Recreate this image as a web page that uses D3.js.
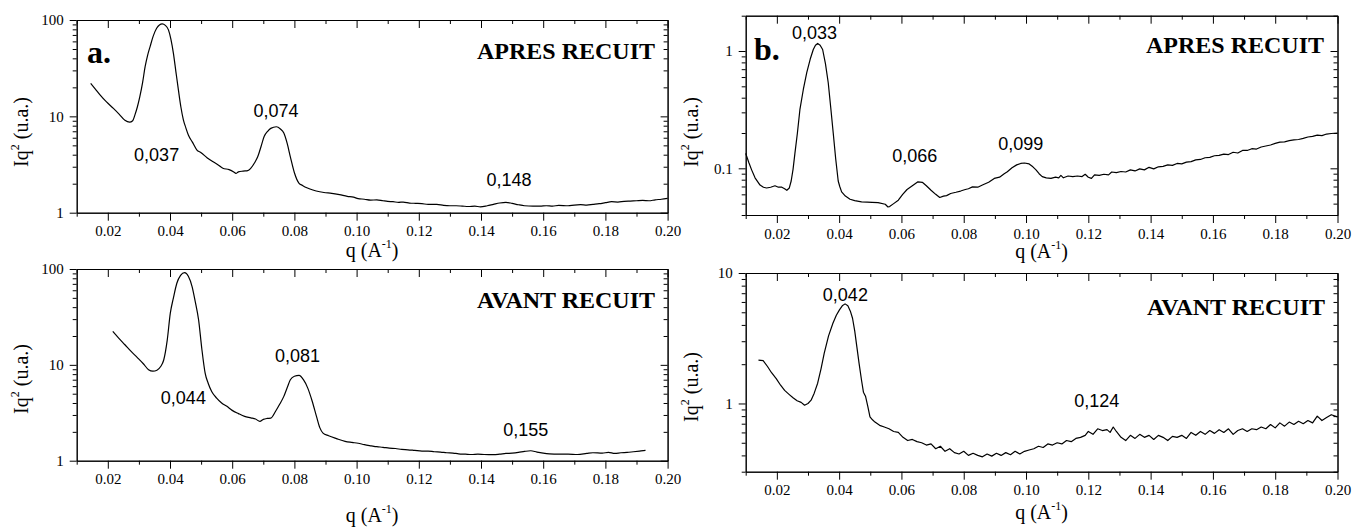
<!DOCTYPE html>
<html><head><meta charset="utf-8">
<script src="https://cdn.jsdelivr.net/npm/d3@7/dist/d3.min.js"></script>
<style>body{margin:0;background:#fff}svg{display:block}</style>
</head><body>
<svg id="chart" width="1361" height="527"></svg>
<script>
// ---------- shared axis data ----------
const qMajorTicks = [0.02,0.04,0.06,0.08,0.10,0.12,0.14,0.16,0.18,0.20];
const qTickLabels = ["0.02","0.04","0.06","0.08","0.10","0.12","0.14","0.16","0.18","0.20"];
const qMinorTicks = [0.01,0.03,0.05,0.07,0.09,0.11,0.13,0.15,0.17,0.19];
const qDomain = [0.01,0.20];

// ---------- panel a : APRES RECUIT ----------
const aApres = [[0.0145,22],[0.0160,19.2],[0.0175,16.7],[0.0195,14.2],[0.0218,12.1],[0.0237,10.5],[0.0255,9.1],[0.0270,8.7],[0.0280,9.0],[0.0287,10.3],[0.0295,12.5],[0.0303,16],[0.0312,22.5],[0.0320,32.8],[0.0328,43],[0.0336,53],[0.0346,68],[0.0357,82],[0.0366,89],[0.0375,91],[0.0385,88],[0.0395,79],[0.0403,63],[0.0411,45],[0.0419,29],[0.0427,18.8],[0.0435,12.5],[0.0443,9.2],[0.0451,7.6],[0.0459,6.4],[0.0472,5.4],[0.0486,4.5],[0.0500,4.2],[0.0520,3.7],[0.0540,3.35],[0.0555,3.13],[0.0570,2.89],[0.0590,2.80],[0.0605,2.65],[0.0612,2.56],[0.0620,2.65],[0.0635,2.70],[0.0650,2.73],[0.0660,2.9],[0.0672,3.3],[0.0682,3.8],[0.0693,4.9],[0.0703,6.2],[0.0714,7.0],[0.0724,7.5],[0.0742,7.8],[0.0755,7.4],[0.0766,6.7],[0.0777,5.2],[0.0787,3.8],[0.0800,2.6],[0.0815,2.02],[0.0826,1.92],[0.0836,1.84],[0.0850,1.76],[0.0870,1.68],[0.0895,1.62],[0.0920,1.59],[0.0945,1.54],[0.0970,1.48],[0.0990,1.45],[0.1005,1.40],[0.1025,1.38],[0.1045,1.35],[0.1065,1.36],[0.1085,1.33],[0.1100,1.31],[0.1117,1.30],[0.1135,1.28],[0.1150,1.29],[0.1170,1.26],[0.1190,1.25],[0.1210,1.24],[0.1230,1.22],[0.1258,1.22],[0.1280,1.19],[0.1300,1.18],[0.1320,1.18],[0.1340,1.17],[0.1360,1.16],[0.1380,1.17],[0.1398,1.15],[0.1420,1.18],[0.1440,1.22],[0.1460,1.26],[0.1480,1.28],[0.1500,1.25],[0.1520,1.21],[0.1540,1.18],[0.1567,1.17],[0.1590,1.17],[0.1610,1.18],[0.1630,1.17],[0.1650,1.19],[0.1680,1.18],[0.1700,1.20],[0.1720,1.21],[0.1740,1.20],[0.1760,1.22],[0.1780,1.24],[0.1800,1.27],[0.1820,1.30],[0.1840,1.29],[0.1860,1.31],[0.1880,1.32],[0.1900,1.33],[0.1920,1.34],[0.1940,1.33],[0.1960,1.36],[0.1980,1.38],[0.2000,1.41]];
const aApresPeaks = [["0,037",0.0357,3.44],["0,074",0.0741,9.93],["0,148",0.149,1.91]];

// ---------- panel a : AVANT RECUIT ----------
const aAvant = [[0.0216,22.3],[0.0235,19.0],[0.0255,16.2],[0.0275,13.8],[0.0295,11.9],[0.0315,10.2],[0.0331,8.9],[0.0345,8.6],[0.0358,8.8],[0.0370,9.6],[0.0380,11.3],[0.0391,18],[0.0401,34.6],[0.0411,50],[0.0422,71],[0.0434,86],[0.0447,91.7],[0.0459,84],[0.0471,65.6],[0.0481,46],[0.0492,29.4],[0.0502,15],[0.0513,8.2],[0.0523,6.4],[0.0534,5.28],[0.0550,4.5],[0.0566,4.0],[0.0583,3.69],[0.0600,3.35],[0.0620,3.1],[0.0640,2.9],[0.0660,2.8],[0.0675,2.72],[0.0689,2.57],[0.0700,2.70],[0.0712,2.76],[0.0724,2.78],[0.0740,3.3],[0.0753,3.9],[0.0766,4.69],[0.0777,5.8],[0.0787,6.98],[0.0800,7.6],[0.0815,7.75],[0.0829,7.0],[0.0843,5.72],[0.0857,4.2],[0.0871,2.9],[0.0882,2.2],[0.0892,1.94],[0.0910,1.82],[0.0935,1.70],[0.0963,1.59],[0.0985,1.55],[0.1005,1.52],[0.1025,1.47],[0.1047,1.43],[0.1065,1.40],[0.1085,1.38],[0.1105,1.35],[0.1125,1.34],[0.1145,1.31],[0.1165,1.30],[0.1187,1.28],[0.1210,1.26],[0.1230,1.26],[0.1250,1.24],[0.1270,1.23],[0.1290,1.21],[0.1310,1.20],[0.1328,1.18],[0.1350,1.17],[0.1370,1.16],[0.1390,1.17],[0.1410,1.16],[0.1440,1.155],[0.1460,1.17],[0.1480,1.19],[0.1500,1.20],[0.1520,1.22],[0.1540,1.25],[0.1560,1.27],[0.1580,1.23],[0.1600,1.20],[0.1620,1.18],[0.1650,1.17],[0.1680,1.17],[0.1710,1.16],[0.1740,1.19],[0.1760,1.21],[0.1790,1.20],[0.1810,1.22],[0.1830,1.19],[0.1850,1.21],[0.1870,1.22],[0.1890,1.24],[0.1910,1.26],[0.1929,1.28]];
const aAvantPeaks = [["0,044",0.0443,3.92],["0,081",0.081,10.6],["0,155",0.1544,1.82]];

// ---------- panel b : APRES RECUIT ----------
const bApres = [[0.0100,0.134],[0.0110,0.112],[0.0119,0.097],[0.0130,0.083],[0.0146,0.072],[0.0157,0.069],[0.0167,0.068],[0.0180,0.069],[0.0194,0.071],[0.0205,0.069],[0.0216,0.069],[0.0225,0.067],[0.0232,0.065],[0.0240,0.068],[0.0246,0.078],[0.0252,0.098],[0.0258,0.134],[0.0266,0.20],[0.0274,0.316],[0.0285,0.47],[0.0296,0.653],[0.0307,0.85],[0.0317,1.03],[0.0324,1.12],[0.0331,1.16],[0.0339,1.12],[0.0347,1.03],[0.0356,0.78],[0.0365,0.536],[0.0373,0.33],[0.0381,0.20],[0.0389,0.12],[0.0397,0.078],[0.0402,0.070],[0.0408,0.063],[0.0420,0.058],[0.0435,0.0545],[0.0450,0.053],[0.0472,0.0517],[0.0490,0.0515],[0.0506,0.0513],[0.0525,0.051],[0.0548,0.0494],[0.0556,0.047],[0.0562,0.0472],[0.0575,0.050],[0.0590,0.0535],[0.0604,0.060],[0.0618,0.066],[0.0635,0.071],[0.0653,0.0767],[0.0667,0.076],[0.0680,0.071],[0.0695,0.065],[0.0710,0.060],[0.0723,0.0564],[0.0735,0.058],[0.0745,0.0585],[0.0758,0.061],[0.0775,0.0625],[0.0790,0.064],[0.0805,0.066],[0.0815,0.067],[0.0828,0.0695],[0.0845,0.069],[0.0860,0.072],[0.0880,0.076],[0.0898,0.082],[0.0915,0.084],[0.0930,0.090],[0.0940,0.0935],[0.0955,0.101],[0.0970,0.107],[0.0983,0.110],[0.0995,0.111],[0.1010,0.109],[0.1022,0.103],[0.1032,0.097],[0.1042,0.090],[0.1052,0.085],[0.1065,0.083],[0.1080,0.082],[0.1095,0.084],[0.1105,0.083],[0.1112,0.087],[0.1120,0.083],[0.1135,0.086],[0.1150,0.085],[0.1165,0.086],[0.1180,0.085],[0.1190,0.089],[0.1200,0.084],[0.1210,0.082],[0.1220,0.088],[0.1235,0.087],[0.1250,0.089],[0.1265,0.088],[0.1275,0.093],[0.1290,0.092],[0.1305,0.094],[0.1320,0.093],[0.1335,0.097],[0.1350,0.095],[0.1365,0.099],[0.1380,0.097],[0.1395,0.102],[0.1410,0.099],[0.1425,0.103],[0.1440,0.104],[0.1455,0.107],[0.1470,0.106],[0.1485,0.110],[0.1500,0.109],[0.1515,0.113],[0.1530,0.114],[0.1545,0.118],[0.1560,0.119],[0.1575,0.123],[0.1590,0.124],[0.1605,0.128],[0.1620,0.129],[0.1635,0.132],[0.1650,0.131],[0.1665,0.137],[0.1680,0.135],[0.1695,0.142],[0.1710,0.142],[0.1725,0.147],[0.1740,0.146],[0.1755,0.152],[0.1770,0.155],[0.1785,0.158],[0.1800,0.163],[0.1815,0.167],[0.1830,0.168],[0.1845,0.172],[0.1860,0.175],[0.1875,0.176],[0.1890,0.180],[0.1905,0.185],[0.1920,0.187],[0.1935,0.192],[0.1950,0.190],[0.1965,0.196],[0.1980,0.198],[0.2000,0.200]];
const bApresPeaks = [["0,033",0.0321,1.26],["0,066",0.0643,0.1126],["0,099",0.0983,0.1435]];

// ---------- panel b : AVANT RECUIT ----------
const bAvant = [[0.0141,2.15],[0.0156,2.13],[0.0170,1.92],[0.0183,1.72],[0.0198,1.55],[0.0212,1.38],[0.0225,1.26],[0.0240,1.17],[0.0253,1.10],[0.0265,1.05],[0.0278,1.02],[0.0289,0.97],[0.0300,1.00],[0.0310,1.06],[0.0320,1.20],[0.0331,1.43],[0.0342,1.85],[0.0352,2.42],[0.0366,3.30],[0.0380,4.12],[0.0391,4.75],[0.0401,5.22],[0.0410,5.60],[0.0419,5.80],[0.0428,5.60],[0.0436,5.10],[0.0443,4.50],[0.0450,3.60],[0.0457,2.70],[0.0464,2.03],[0.0472,1.50],[0.0478,1.22],[0.0485,1.13],[0.0492,0.95],[0.0499,0.79],[0.0507,0.75],[0.0515,0.72],[0.0530,0.68],[0.0545,0.66],[0.0560,0.64],[0.0575,0.61],[0.0590,0.60],[0.0605,0.55],[0.0620,0.52],[0.0635,0.53],[0.0650,0.51],[0.0665,0.50],[0.0680,0.48],[0.0695,0.49],[0.0710,0.45],[0.0725,0.47],[0.0740,0.43],[0.0755,0.45],[0.0770,0.42],[0.0785,0.41],[0.0800,0.43],[0.0815,0.40],[0.0830,0.415],[0.0845,0.40],[0.0860,0.39],[0.0875,0.41],[0.0890,0.395],[0.0905,0.415],[0.0920,0.40],[0.0935,0.42],[0.0950,0.405],[0.0965,0.43],[0.0980,0.41],[0.0995,0.43],[0.1010,0.44],[0.1025,0.45],[0.1040,0.47],[0.1055,0.46],[0.1070,0.49],[0.1085,0.48],[0.1100,0.50],[0.1115,0.49],[0.1130,0.52],[0.1145,0.51],[0.1160,0.54],[0.1175,0.55],[0.1190,0.57],[0.1200,0.61],[0.1215,0.58],[0.1230,0.64],[0.1245,0.62],[0.1260,0.63],[0.1270,0.60],[0.1280,0.66],[0.1290,0.61],[0.1305,0.55],[0.1320,0.52],[0.1335,0.57],[0.1350,0.54],[0.1365,0.58],[0.1380,0.55],[0.1395,0.57],[0.1410,0.53],[0.1425,0.57],[0.1440,0.55],[0.1455,0.52],[0.1470,0.56],[0.1485,0.55],[0.1500,0.57],[0.1515,0.54],[0.1530,0.60],[0.1545,0.57],[0.1560,0.61],[0.1575,0.58],[0.1590,0.62],[0.1605,0.59],[0.1620,0.63],[0.1635,0.60],[0.1650,0.64],[0.1665,0.58],[0.1680,0.62],[0.1695,0.64],[0.1710,0.61],[0.1725,0.64],[0.1740,0.63],[0.1755,0.66],[0.1770,0.64],[0.1785,0.69],[0.1800,0.65],[0.1815,0.71],[0.1830,0.67],[0.1845,0.72],[0.1860,0.69],[0.1875,0.73],[0.1890,0.70],[0.1905,0.74],[0.1920,0.71],[0.1935,0.80],[0.1950,0.74],[0.1965,0.78],[0.1980,0.82],[0.2000,0.79]];
const bAvantPeaks = [["0,042",0.042,6.12],["0,124",0.1227,0.932]];

// ---------- y axis ticks ----------
const yTicksA = [1,10,100];
const yTickLabelsA = ["1","10","100"];
const yMinorA = [2,3,4,5,6,7,8,9,20,30,40,50,60,70,80,90];
const yTicksBApres = [0.1,1];
const yTickLabelsBApres = ["0.1","1"];
const yMinorBApres = [0.04,0.05,0.06,0.07,0.08,0.09,0.2,0.3,0.4,0.5,0.6,0.7,0.8,0.9,2];
const yTicksBAvant = [1,10];
const yTickLabelsBAvant = ["1","10"];
const yMinorBAvant = [0.3,0.4,0.5,0.6,0.7,0.8,0.9,2,3,4,5,6,7,8,9];

const svg = d3.select("#chart");
const SERIF = "'Liberation Serif','Times New Roman',serif";
const SANS = "'Liberation Sans',Arial,sans-serif";

function panel(cfg){
  const x = d3.scaleLinear().domain(qDomain).range([cfg.left, cfg.right]);
  const y = d3.scaleLog().domain(cfg.yDomain).range([cfg.bottom, cfg.top]);
  const g = svg.append("g");

  function styleAxis(sel){
    sel.attr("font-family",SERIF).attr("font-size",15);
    sel.selectAll(".domain").attr("stroke","#000").attr("stroke-width",1);
    sel.selectAll(".tick line").attr("stroke","#000").attr("stroke-width",1);
    sel.selectAll(".tick text").attr("font-family",SERIF).attr("font-size",15).attr("fill","#000");
  }
  // bottom
  styleAxis(g.append("g").attr("transform",`translate(0,${cfg.bottom})`)
    .call(d3.axisBottom(x).tickValues(qMajorTicks).tickFormat((d,i)=>qTickLabels[i]).tickSize(8).tickSizeOuter(0).tickPadding(5)));
  styleAxis(g.append("g").attr("transform",`translate(0,${cfg.bottom})`)
    .call(d3.axisBottom(x).tickValues(qMinorTicks).tickFormat("").tickSize(4).tickSizeOuter(0)));
  // top (inward)
  styleAxis(g.append("g").attr("transform",`translate(0,${cfg.top})`)
    .call(d3.axisTop(x).tickValues(qMajorTicks).tickFormat("").tickSize(-8).tickSizeOuter(0)));
  styleAxis(g.append("g").attr("transform",`translate(0,${cfg.top})`)
    .call(d3.axisTop(x).tickValues(qMinorTicks).tickFormat("").tickSize(-4).tickSizeOuter(0)));
  // left
  styleAxis(g.append("g").attr("transform",`translate(${cfg.left},0)`)
    .call(d3.axisLeft(y).tickValues(cfg.yTicks).tickFormat((d,i)=>cfg.yLabels[i]).tickSize(7).tickSizeOuter(0).tickPadding(6)));
  styleAxis(g.append("g").attr("transform",`translate(${cfg.left},0)`)
    .call(d3.axisLeft(y).tickValues(cfg.yMinor).tickFormat("").tickSize(4).tickSizeOuter(0)));
  // right (inward)
  styleAxis(g.append("g").attr("transform",`translate(${cfg.right},0)`)
    .call(d3.axisRight(y).tickValues(cfg.yTicks).tickFormat("").tickSize(-7).tickSizeOuter(0)));
  styleAxis(g.append("g").attr("transform",`translate(${cfg.right},0)`)
    .call(d3.axisRight(y).tickValues(cfg.yMinor).tickFormat("").tickSize(-4).tickSizeOuter(0)));

  // curve
  const line = d3.line().x(d=>x(d[0])).y(d=>y(d[1])).curve(cfg.curve);
  g.append("path").datum(cfg.data).attr("d",line)
    .attr("fill","none").attr("stroke","#000").attr("stroke-width",1.2).attr("stroke-linejoin","round");

  // peak labels
  g.selectAll("text.peak").data(cfg.peaks).join("text").attr("class","peak")
    .attr("x",d=>x(d[1])).attr("y",d=>y(d[2])).attr("text-anchor","middle")
    .attr("font-family",SANS).attr("font-size",18).attr("fill","#000").text(d=>d[0]);

  // title
  g.append("text").attr("x",cfg.titleX).attr("y",cfg.titleY).attr("text-anchor","end")
    .attr("font-family",SERIF).attr("font-weight","bold").attr("font-size",24).attr("fill","#000").text(cfg.title);

  if(cfg.letter){
    g.append("text").attr("x",cfg.letter[1]).attr("y",cfg.letter[2])
      .attr("font-family",SERIF).attr("font-weight","bold").attr("font-size",32).attr("fill","#000").text(cfg.letter[0]);
  }

  // y title
  const yt = g.append("text").attr("transform",`translate(${cfg.yTitleX},${cfg.yTitleY}) rotate(-90)`)
    .attr("text-anchor","middle").attr("font-family",SERIF).attr("font-size",20).attr("fill","#000");
  yt.append("tspan").text("Iq");
  yt.append("tspan").attr("font-size",12).attr("dy",-9).text("2");
  yt.append("tspan").attr("dy",9).text(" (u.a.)");

  // x title
  const xt = g.append("text").attr("x",(cfg.left+cfg.right)/2).attr("y",cfg.xTitleY)
    .attr("text-anchor","middle").attr("font-family",SERIF).attr("font-size",20).attr("fill","#000");
  xt.append("tspan").text("q (A");
  xt.append("tspan").attr("font-size",12).attr("dy",-9).text("-1");
  xt.append("tspan").attr("dy",9).text(")");
}

panel({left:76.7,right:667.6,top:20,bottom:212.7,yDomain:[1,100],yTicks:yTicksA,yLabels:yTickLabelsA,yMinor:yMinorA,curve:d3.curveMonotoneX,
  data:aApres,peaks:aApresPeaks,title:"APRES RECUIT",titleX:655,titleY:59,letter:["a.",87,63],yTitleX:28,yTitleY:132,xTitleY:257});
panel({left:76.7,right:667.6,top:269,bottom:460.7,yDomain:[1,100],yTicks:yTicksA,yLabels:yTickLabelsA,yMinor:yMinorA,curve:d3.curveMonotoneX,
  data:aAvant,peaks:aAvantPeaks,title:"AVANT RECUIT",titleX:655,titleY:308,letter:null,yTitleX:28,yTitleY:379,xTitleY:522});
panel({left:745.7,right:1337.5,top:15.7,bottom:215,yDomain:[0.04,2],yTicks:yTicksBApres,yLabels:yTickLabelsBApres,yMinor:yMinorBApres,curve:d3.curveLinear,
  data:bApres,peaks:bApresPeaks,title:"APRES RECUIT",titleX:1324,titleY:53,letter:["b.",754,60],yTitleX:698,yTitleY:132,xTitleY:258});
panel({left:745.7,right:1337.5,top:273,bottom:471.7,yDomain:[0.3,10],yTicks:yTicksBAvant,yLabels:yTickLabelsBAvant,yMinor:yMinorBAvant,curve:d3.curveLinear,
  data:bAvant,peaks:bAvantPeaks,title:"AVANT RECUIT",titleX:1325,titleY:315,letter:null,yTitleX:698,yTitleY:387,xTitleY:519});
</script>
</body></html>
